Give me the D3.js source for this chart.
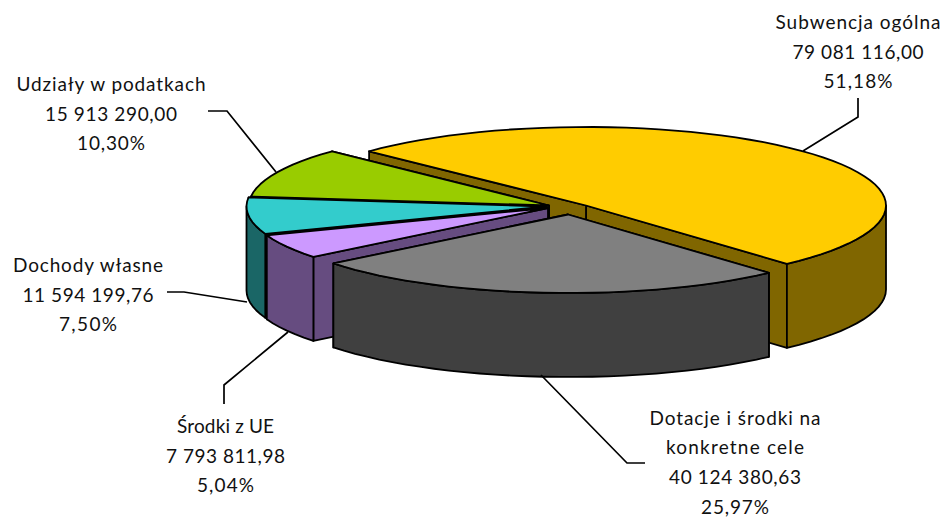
<!DOCTYPE html>
<html>
<head>
<meta charset="utf-8">
<script src="https://cdnjs.cloudflare.com/ajax/libs/d3/7.8.5/d3.min.js"></script>
<style>
  html, body { margin: 0; background: #fff; }
  text { font-family: Lato, "Open Sans", sans-serif; font-size: 19px; fill: #111; text-anchor: middle; }
  .edge { stroke: #000; stroke-width: 1.8; stroke-linejoin: round; }
  .leader { fill: none; stroke: #000; stroke-width: 1.7; }
</style>
</head>
<body>
<svg id="chart" width="943" height="517"></svg>
<script>
var categories = ['Subwencja ogólna', 'Dotacje i środki na konkretne cele', 'Środki z UE', 'Dochody własne', 'Udziały w podatkach'];
var values = [79081116.00, 40124380.63, 7793811.98, 11594199.76, 15913290.00];
var topColors = ['#ffcc00', '#808080', '#cc99ff', '#33cccc', '#99cc00'];
var wallColors = ['#806600', '#404040', '#664c80', '#1a6666', '#4d6600'];

// slice layout, same order as categories
var centers = [[586, 205.5], [568, 214.5], [548, 208], [546.5, 206.5], [549, 205.5]];
var labelPos = [[858, 29], [735, 424.5], [225.5, 433], [88, 272], [111, 91]];
var labelLines = [
  ['Subwencja ogólna'],
  ['Dotacje i środki na', 'konkretne cele'],
  ['Środki z UE'],
  ['Dochody własne'],
  ['Udziały w podatkach']
];
// measured row widths, the original font runs wider than anything installed
var labelWidths = [
  [165, 131, 69],
  [171, 138, 132, 68],
  [97, 119, 57],
  [150, 131, 58],
  [189, 132, 68]
];
var leaders = [
  [[858, 98], [858, 117], [803, 151]],
  [[645, 463], [627, 463], [541, 375]],
  [[224, 404], [224, 385], [288, 332]],
  [[167, 292], [184, 292], [247, 302]],
  [[208, 111], [227, 111], [276, 172]]
];

var rx = 300, ry = 78.5, depth = 84, lineGap = 29.7;
var startAngle = -46.3 * Math.PI / 180;

var svg = d3.select('#chart');
var line = d3.line();
var plLocale = d3.formatLocale({ decimal: ',', thousands: ' ', grouping: [3], currency: ['', ' zł'] });
var fmtValue = plLocale.format(',.2f');
var fmtPct = plLocale.format('.2%');
var total = d3.sum(values);

var pie = d3.pie().sort(null).startAngle(startAngle).endAngle(startAngle + 2 * Math.PI);
var arcs = pie(values);

function pt(c, t, dz) {
  return [c[0] + rx * Math.sin(t), c[1] - ry * Math.cos(t) + (dz || 0)];
}

// coarse sampling keeps the stepped outline of the original rendering
function arcPoints(c, a0, a1, dz) {
  var n = Math.max(2, Math.ceil(Math.abs(a1 - a0) / (3.2 * Math.PI / 180)));
  return d3.range(n + 1).map(function (i) {
    return pt(c, a0 + (a1 - a0) * i / n, dz);
  });
}

function poly(points, fill) {
  svg.append('path').attr('class', 'edge').attr('fill', fill).attr('d', line(points) + 'Z');
}

function radialWall(c, t, fill) {
  var p = pt(c, t);
  poly([c, p, [p[0], p[1] + depth], [c[0], c[1] + depth]], fill);
}

// yellow first, then round the back to the gray slice in front
var drawOrder = [0, 4, 3, 2, 1];

drawOrder.forEach(function (i) {
  var a = arcs[i], c = centers[i], wall = wallColors[i];
  radialWall(c, a.endAngle, wall);
  radialWall(c, a.startAngle, wall);

  // only the part of the rim that faces the viewer
  var a0 = Math.max(a.startAngle, Math.PI / 2), a1 = Math.min(a.endAngle, 3 * Math.PI / 2);
  if (a1 > a0) {
    poly(arcPoints(c, a0, a1, 0).concat(arcPoints(c, a0, a1, depth).reverse()), wall);
  }

  poly([c].concat(arcPoints(c, a.startAngle, a.endAngle, 0)), topColors[i]);
});

svg.selectAll('path.leader').data(leaders).enter().append('path')
  .attr('class', 'leader')
  .attr('d', function (d) { return line(d); });

categories.forEach(function (name, i) {
  var rows = labelLines[i].concat([fmtValue(values[i]), fmtPct(values[i] / total)]);
  svg.append('g').selectAll('text').data(rows).enter().append('text')
    .attr('x', labelPos[i][0])
    .attr('y', function (d, j) { return labelPos[i][1] + j * lineGap; })
    .attr('textLength', function (d, j) { return labelWidths[i][j]; })
    .text(function (d) { return d; });
});
</script>
</body>
</html>
